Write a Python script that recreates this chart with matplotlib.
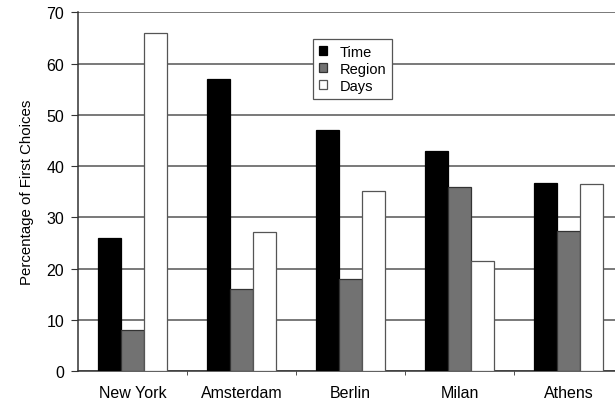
import numpy as np
import matplotlib.pyplot as plt

plt.rcParams['font.family'] = ['Liberation Sans', 'DejaVu Sans']

cities = ["New York", "Amsterdam", "Berlin", "Milan", "Athens"]
time_vals = [26, 57, 47, 43, 36.7]
region_vals = [8, 16, 18, 36, 27.3]
days_vals = [66, 27.2, 35.2, 21.4, 36.4]

series = [("Time", time_vals, "black", "black"),
          ("Region", region_vals, "#727272", "#333333"),
          ("Days", days_vals, "white", "#555555")]

fig = plt.figure(figsize=(6.15, 4.02), dpi=100)
ax = fig.add_axes([78 / 615, 30 / 402, 545 / 615, 358.7 / 402])

x = np.arange(len(cities))
w = 0.214
for j, (name, vals, fc, ec) in enumerate(series):
    ax.bar(x + (j - 1) * w, vals, width=w, color=fc, edgecolor=ec,
           linewidth=0.9, label=name, zorder=3)

ax.set_xlim(-0.5, 4.5)
ax.set_ylim(0, 70)
ax.set_yticks(range(0, 71, 10))
ax.yaxis.grid(True, color="#555555", linewidth=1.1, zorder=0)
ax.set_axisbelow(True)

ax.set_xticks(x)
ax.set_xticklabels(cities, fontsize=11.5)
ax.set_xticks(np.arange(0.5, 4.5, 1), minor=True)
ax.tick_params(axis="x", which="major", length=0, pad=10)
ax.tick_params(axis="x", which="minor", length=3, color="#333333")
ax.tick_params(axis="y", labelsize=11.5, length=5, color="#333333", pad=5)

for s in ["top", "right"]:
    ax.spines[s].set_visible(False)
for s in ["left", "bottom"]:
    ax.spines[s].set_color("#333333")
    ax.spines[s].set_linewidth(1.1)

ax.set_ylabel("Percentage of First Choices", fontsize=10.8, labelpad=9)

leg = ax.legend(loc="upper left", bbox_to_anchor=(313 / 615, 1 - 40 / 402),
                bbox_transform=fig.transFigure, fontsize=10.5,
                handlelength=0.55, handleheight=0.55, handletextpad=0.9,
                labelspacing=0.2, borderpad=0.4, borderaxespad=0,
                fancybox=False, framealpha=1, edgecolor="#555555")
leg.get_frame().set_linewidth(0.9)
leg.set_zorder(5)

fig.savefig("out.png", dpi=100)
